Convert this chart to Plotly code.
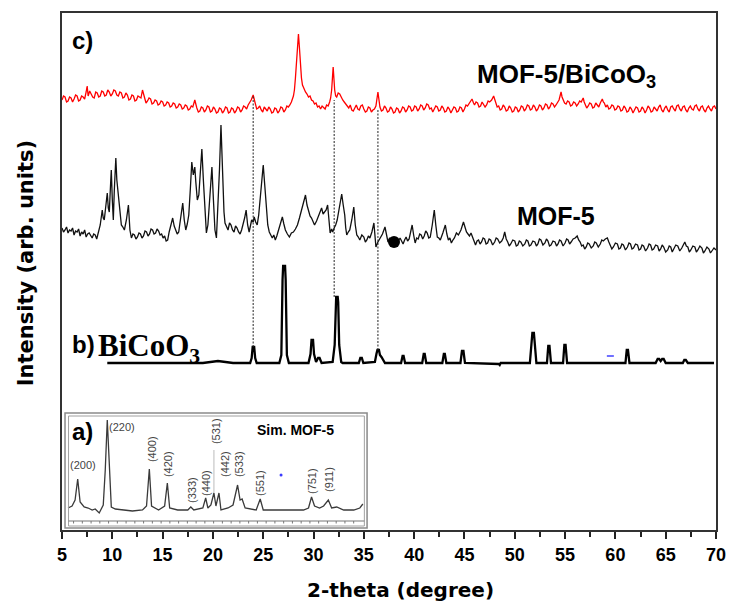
import plotly.graph_objects as go

# ---------------- data (2-theta, intensity in arbitrary offset units) ----------------
red_pts = [
    (5.0,430),(5.15,434),(5.3,433),(5.45,428),(5.6,429),(5.75,433),(5.9,432),(6.05,428),(6.2,431),(6.35,435),
    (6.5,434),(6.65,429),(6.8,430),(6.95,434),(7.1,433),(7.25,431),(7.4,438),(7.5,444),(7.6,434),(7.75,439),
    (7.9,436),(8.05,433),(8.2,432),(8.35,438),(8.5,437),(8.65,433),(8.8,434),(8.95,439),(9.1,438),(9.25,434),
    (9.4,435),(9.55,440),(9.7,438),(9.85,434),(10.0,436),(10.15,440),(10.3,439),(10.45,435),(10.6,434),(10.75,438),
    (10.9,437),(11.05,432),(11.2,433),(11.35,437),(11.5,435),(11.65,430),(11.8,431),(11.95,435),(12.1,434),(12.25,429),
    (12.4,430),(12.55,434),(12.7,433),(12.85,432),(13.0,440),(13.2,431),(13.35,427),(13.5,429),(13.65,432),(13.8,431),
    (13.95,426),(14.1,427),(14.25,430),(14.4,429),(14.55,425),(14.7,426),(14.85,429),(15.0,428),(15.15,424),(15.3,425),
    (15.45,428),(15.6,427),(15.75,423),(15.9,424),(16.05,427),(16.2,426),(16.35,422),(16.5,423),(16.65,426),(16.8,425),
    (16.95,421),(17.1,422),(17.25,425),(17.4,424),(17.55,420),(17.7,421),(17.85,424),(18.0,423),(18.2,430),(18.4,422),
    (18.55,418),(18.7,419),(18.85,423),(19.0,422),(19.15,418),(19.3,420),(19.45,424),(19.6,423),(19.75,418),(19.9,419),
    (20.05,423),(20.2,421),(20.35,417),(20.5,418),(20.65,422),(20.8,421),(20.95,417),(21.1,419),(21.25,423),(21.4,422),
    (21.55,417),(21.7,418),(21.85,422),(22.0,421),(22.15,417),(22.3,419),(22.45,423),(22.6,422),(22.75,418),(22.9,420),
    (23.05,424),(23.2,423),(23.35,421),(23.5,425),(23.65,427),(23.8,430),(24.0,435),(24.2,426),(24.35,421),(24.5,422),
    (24.65,424),(24.8,420),(24.95,418),(25.1,423),(25.25,421),(25.4,419),(25.55,423),(25.7,421),(25.85,417),(26.0,418),
    (26.15,422),(26.3,421),(26.45,417),(26.6,419),(26.75,423),(26.9,422),(27.05,418),(27.2,420),(27.35,424),(27.5,423),
    (27.65,425),(27.8,428),(28.0,434),(28.1,440),(28.2,452),(28.3,470),(28.4,488),(28.5,496),(28.6,482),(28.7,465),
    (28.8,452),(28.9,445),(29.05,441),(29.2,438),(29.35,436),(29.5,433),(29.65,434),(29.8,430),(29.95,429),(30.1,426),
    (30.25,427),(30.4,423),(30.55,424),(30.7,421),(30.85,424),(31.0,422),(31.15,421),(31.3,425),(31.45,424),(31.6,428),
    (31.7,432),(31.8,440),(31.95,463),(32.1,440),(32.2,434),(32.3,433),(32.45,437),(32.6,436),(32.75,432),(32.9,430),
    (33.05,428),(33.2,426),(33.35,424),(33.5,422),(33.65,425),(33.8,420),(33.95,419),(34.1,423),(34.25,425),(34.4,421),
    (34.55,420),(34.7,424),(34.85,425),(35.0,421),(35.15,418),(35.3,419),(35.45,423),(35.6,422),(35.75,418),(35.9,420),
    (36.05,421),(36.2,424),(36.4,438),(36.6,423),(36.75,419),(36.9,420),(37.05,424),(37.2,422),(37.35,418),(37.5,419),
    (37.65,423),(37.8,421),(37.95,417),(38.1,418),(38.25,422),(38.4,421),(38.55,417),(38.7,419),(38.85,423),(39.0,422),
    (39.15,418),(39.3,420),(39.45,424),(39.6,423),(39.75,419),(39.9,420),(40.05,424),(40.2,423),(40.35,419),(40.5,421),
    (40.65,425),(40.8,424),(40.95,420),(41.1,422),(41.25,426),(41.4,425),(41.55,421),(41.7,422),(41.85,418),(42.0,421),
    (42.15,424),(42.3,423),(42.45,419),(42.6,420),(42.75,424),(42.9,422),(43.05,418),(43.2,419),(43.35,423),(43.5,421),
    (43.65,417),(43.8,420),(43.95,423),(44.1,422),(44.25,418),(44.4,419),(44.55,423),(44.7,422),(44.85,418),(45.0,421),
    (45.15,425),(45.3,424),(45.45,426),(45.6,428),(45.75,431),(45.9,427),(46.0,425),(46.15,428),(46.3,427),(46.45,423),
    (46.6,424),(46.75,428),(46.9,426),(47.05,423),(47.2,425),(47.35,429),(47.5,428),(47.7,430),(47.9,434),(48.1,428),
    (48.25,423),(48.4,424),(48.55,420),(48.7,421),(48.85,425),(49.0,423),(49.15,419),(49.3,420),(49.45,424),(49.6,422),
    (49.75,418),(49.9,419),(50.05,423),(50.2,422),(50.35,418),(50.5,420),(50.65,424),(50.8,423),(50.95,419),(51.1,421),
    (51.25,425),(51.4,424),(51.55,420),(51.7,421),(51.85,425),(52.0,423),(52.15,419),(52.3,421),(52.45,425),(52.6,424),
    (52.75,420),(52.9,422),(53.05,426),(53.2,425),(53.35,421),(53.5,423),(53.65,427),(53.8,426),(53.95,423),(54.1,425),
    (54.25,428),(54.4,430),(54.5,434),(54.6,438),(54.7,433),(54.8,430),(54.95,427),(55.1,426),(55.25,429),(55.4,428),
    (55.55,424),(55.7,425),(55.85,428),(56.0,427),(56.15,424),(56.3,426),(56.45,429),(56.6,428),(56.7,430),(56.8,432),
    (56.9,428),(57.0,426),(57.15,422),(57.3,424),(57.45,427),(57.6,426),(57.75,422),(57.9,423),(58.05,427),(58.2,425),
    (58.35,423),(58.5,427),(58.6,429),(58.7,431),(58.8,428),(58.9,427),(59.05,423),(59.2,425),(59.35,421),(59.5,422),
    (59.65,425),(59.8,424),(59.95,420),(60.1,421),(60.25,424),(60.4,423),(60.55,419),(60.7,420),(60.85,424),(61.0,422),
    (61.15,418),(61.3,419),(61.45,423),(61.6,421),(61.75,417),(61.9,420),(62.05,423),(62.2,422),(62.35,418),(62.5,419),
    (62.65,423),(62.8,421),(62.95,417),(63.1,420),(63.25,424),(63.4,422),(63.55,418),(63.7,419),(63.85,423),(64.0,421),
    (64.15,419),(64.3,423),(64.45,425),(64.6,420),(64.75,418),(64.9,422),(65.05,424),(65.2,420),(65.35,418),(65.5,423),
    (65.65,424),(65.8,421),(65.95,419),(66.1,424),(66.25,425),(66.4,421),(66.55,419),(66.7,423),(66.85,424),(67.0,420),
    (67.15,418),(67.3,422),(67.45,424),(67.6,421),(67.75,420),(67.9,424),(68.05,425),(68.2,421),(68.35,419),(68.5,423),
    (68.65,424),(68.8,420),(68.95,418),(69.1,422),(69.25,424),(69.4,421),(69.55,419),(69.7,423),(69.85,424),(70.0,421),
]

mof_pts = [
    (5.0,302),(5.15,298),(5.3,300),(5.45,303),(5.6,297),(5.75,300),(5.9,299),(6.05,302),(6.2,295),(6.35,299),
    (6.5,298),(6.65,301),(6.8,294),(6.95,298),(7.1,296),(7.25,300),(7.4,293),(7.55,296),(7.7,297),(7.85,294),
    (8.0,292),(8.15,296),(8.3,295),(8.45,291),(8.6,298),(8.8,305),(9.0,320),(9.1,312),(9.2,310),(9.35,325),
    (9.5,337),(9.6,322),(9.7,318),(9.8,340),(9.9,360),(10.0,330),(10.1,310),(10.2,340),(10.35,372),(10.45,350),
    (10.6,333),(10.75,318),(10.9,305),(11.05,303),(11.2,300),(11.4,310),(11.6,325),(11.75,300),(11.9,292),(12.05,296),
    (12.2,295),(12.35,291),(12.5,293),(12.65,297),(12.8,296),(12.95,292),(13.1,294),(13.25,299),(13.4,298),(13.55,294),
    (13.7,296),(13.85,301),(14.0,300),(14.15,296),(14.3,297),(14.45,301),(14.6,299),(14.75,295),(14.9,296),(15.05,292),
    (15.2,294),(15.35,289),(15.5,290),(15.65,298),(15.8,305),(16.0,312),(16.15,304),(16.3,300),(16.45,296),(16.6,298),
    (16.8,312),(17.0,327),(17.15,310),(17.3,300),(17.45,306),(17.6,315),(17.75,340),(17.9,368),(18.05,355),(18.2,363),
    (18.3,348),(18.45,330),(18.6,335),(18.75,355),(18.9,381),(19.05,350),(19.2,320),(19.35,297),(19.5,305),(19.6,320),
    (19.75,340),(19.9,363),(20.05,330),(20.2,300),(20.35,292),(20.5,320),(20.65,360),(20.8,405),(20.9,370),(21.0,340),
    (21.1,318),(21.2,307),(21.35,304),(21.5,300),(21.65,307),(21.8,305),(21.95,300),(22.1,298),(22.25,304),(22.4,302),
    (22.55,298),(22.7,296),(22.85,300),(23.0,305),(23.15,312),(23.3,320),(23.45,305),(23.6,298),(23.75,304),(23.85,310),
    (24.0,308),(24.1,313),(24.25,308),(24.4,305),(24.55,315),(24.7,330),(24.85,350),(25.0,365),(25.15,345),(25.3,320),
    (25.45,305),(25.6,298),(25.75,294),(25.9,292),(26.05,295),(26.2,290),(26.35,294),(26.5,300),(26.7,306),(26.9,313),
    (27.05,306),(27.2,300),(27.4,296),(27.6,293),(27.8,297),(28.0,298),(28.2,301),(28.4,305),(28.6,312),(28.8,320),
    (29.0,326),(29.2,335),(29.35,325),(29.5,318),(29.65,314),(29.8,312),(29.95,308),(30.1,305),(30.3,309),(30.5,315),
    (30.65,318),(30.8,322),(30.95,316),(31.1,318),(31.25,320),(31.4,325),(31.5,310),(31.65,297),(31.8,301),(31.9,298),
    (32.05,302),(32.2,305),(32.35,310),(32.5,318),(32.65,328),(32.8,336),(32.95,325),(33.1,315),(33.2,302),(33.3,295),
    (33.45,298),(33.6,300),(33.8,310),(34.0,323),(34.15,305),(34.3,295),(34.45,293),(34.6,290),(34.8,295),(35.0,293),
    (35.15,288),(35.3,290),(35.45,294),(35.6,292),(35.8,298),(36.0,307),(36.1,295),(36.2,283),(36.4,288),(36.6,292),
    (36.85,296),(37.1,303),(37.25,294),(37.4,288),(37.55,292),(37.7,290),(38.0,290),(38.15,292),(38.3,287),(38.45,290),
    (38.6,292),(38.75,289),(38.9,286),(39.05,290),(39.2,293),(39.35,289),(39.5,291),(39.65,298),(39.8,305),(39.95,295),
    (40.1,287),(40.25,292),(40.4,291),(40.55,296),(40.7,295),(40.85,291),(41.0,294),(41.15,299),(41.3,297),(41.45,292),
    (41.6,293),(41.8,305),(42.0,320),(42.15,305),(42.3,293),(42.45,292),(42.6,290),(42.85,297),(43.1,305),(43.25,296),
    (43.4,290),(43.55,292),(43.7,287),(43.85,290),(44.0,292),(44.2,297),(44.4,295),(44.65,300),(44.9,308),(45.05,303),
    (45.2,298),(45.35,296),(45.5,294),(45.65,297),(45.8,292),(45.95,289),(46.1,285),(46.25,289),(46.4,290),(46.55,286),
    (46.7,288),(46.85,292),(47.0,291),(47.15,286),(47.3,287),(47.45,291),(47.6,290),(47.8,285),(48.0,288),(48.15,292),
    (48.3,291),(48.5,287),(48.7,289),(48.85,292),(49.0,298),(49.15,291),(49.3,288),(49.45,284),(49.6,286),(49.8,290),
    (50.0,289),(50.15,284),(50.3,285),(50.45,289),(50.6,288),(50.8,284),(51.0,286),(51.15,290),(51.3,289),(51.45,284),
    (51.6,285),(51.8,289),(52.0,288),(52.15,284),(52.3,286),(52.45,291),(52.6,290),(52.8,285),(53.0,287),(53.15,291),
    (53.3,289),(53.45,284),(53.6,285),(53.8,289),(54.0,288),(54.15,284),(54.3,286),(54.45,290),(54.6,289),(54.8,284),
    (55.0,287),(55.15,291),(55.3,290),(55.45,286),(55.6,288),(55.8,291),(56.0,292),(56.1,293),(56.2,294),(56.35,290),
    (56.5,288),(56.65,284),(56.8,285),(56.95,281),(57.1,283),(57.25,287),(57.4,286),(57.6,282),(57.8,284),(57.95,288),
    (58.1,287),(58.3,283),(58.5,286),(58.65,290),(58.8,289),(59.0,291),(59.2,292),(59.35,288),(59.5,285),(59.65,281),
    (59.8,283),(60.0,287),(60.2,286),(60.35,281),(60.5,282),(60.65,286),(60.8,285),(61.0,280),(61.2,283),(61.35,287),
    (61.5,286),(61.65,281),(61.8,282),(62.0,286),(62.2,285),(62.35,280),(62.5,281),(62.65,285),(62.8,284),(63.0,279),
    (63.2,282),(63.35,286),(63.5,285),(63.65,280),(63.8,281),(64.0,285),(64.2,284),(64.35,279),(64.5,281),(64.65,285),
    (64.8,283),(65.0,278),(65.2,280),(65.35,284),(65.5,283),(65.65,278),(65.8,281),(66.0,285),(66.2,284),(66.4,279),
    (66.6,282),(66.75,286),(66.9,288),(67.05,284),(67.2,283),(67.35,278),(67.5,280),(67.7,284),(67.9,283),(68.05,278),
    (68.2,280),(68.4,284),(68.6,282),(68.75,277),(68.9,279),(69.1,283),(69.3,281),(69.45,277),(69.6,279),(69.8,282),
    (70.0,280),
]

bico_pts = [
    (9.5,167),(19.0,167),(20.5,169),(22.0,167),(23.7,167),(23.85,172),(23.95,183),(24.1,183),(24.2,172),(24.35,167),
    (26.6,167),(26.8,175),(26.92,250),(26.98,264),(27.17,264),(27.23,250),(27.35,175),(27.55,167),
    (29.5,167),(29.7,176),(29.8,190),(29.95,190),(30.05,176),(30.25,168),(30.45,172),(30.6,172),(30.8,167),
    (31.9,168),(32.1,185),(32.2,228),(32.25,233),(32.4,233),(32.45,228),(32.55,185),(32.75,168),(32.9,167),
    (34.5,167),(34.65,172),(34.8,172),(34.95,167),
    (36.1,168),(36.25,176),(36.35,180),(36.5,180),(36.6,175),(36.75,173),(36.9,170),(37.1,167),
    (38.7,167),(38.85,174),(38.95,174),(39.1,167),
    (40.8,167),(40.95,176),(41.05,176),(41.2,167),
    (42.8,167),(42.95,176),(43.05,176),(43.2,167),
    (44.6,167),(44.75,179),(44.9,179),(45.05,167),
    (48.4,166),(48.5,165),(48.6,167),
    (51.5,167),(51.65,185),(51.75,197),(51.9,197),(52.0,185),(52.15,167),
    (53.2,167),(53.33,184),(53.45,184),(53.6,167),
    (54.8,167),(54.93,185),(55.05,185),(55.2,167),
    (61.0,167),(61.13,180),(61.25,180),(61.4,167),
    (64.0,167),(64.2,171),(64.35,171),(64.5,169),(64.65,171),(64.8,171),(65.0,167),
    (66.7,167),(66.85,170),(67.0,170),(67.2,167),(69.8,167),
]

sim_pts = [
    (5.6,22),(6.0,24),(6.3,30),(6.56,51),(6.8,28),(7.2,23),(7.6,22),(8.0,20),(8.3,21),(8.7,17),
    (9.1,25),(9.3,60),(9.5,110),(9.7,60),(9.9,23),(10.3,21),(11.0,20),(12.0,19),(13.0,20),(13.4,24),
    (13.68,61),(13.9,24),(14.6,20),(15.2,24),(15.47,47),(15.7,22),(16.5,20),(17.5,20),(17.8,23),(18.1,20),
    (19.0,22),(19.28,32),(19.5,22),(19.8,25),(20.1,37),(20.3,24),(20.6,37),(20.8,20),(21.5,22),(22.0,25),
    (22.45,45),(22.7,30),(22.9,31),(23.2,22),(24.3,20),(24.7,31),(25.0,20),(26.0,20),(27.0,20),(28.0,20),
    (29.0,20),(29.5,22),(29.8,33),(30.1,24),(30.6,22),(31.0,24),(31.47,30),(31.8,22),(32.3,23),(33.0,20),
    (34.0,20),(34.6,22),(34.9,26),
]

# dotted guide lines linking composite peaks with BiCoO3 reflections
guide_2theta = [24.0, 32.05, 36.4]
guide_top = [435, 430, 420]
guide_bottom = [183, 233, 180]

# hkl labels of simulated MOF-5 (inset)
hkl_labels = ["(400)", "(420)", "(333)", "(440)", "(531)", "(442)", "(533)", "(551)", "(751)", "(911)"]
hkl_2theta = [13.95, 15.54, 17.92, 19.31, 20.31, 21.2, 22.6, 24.68, 29.85, 31.54]
hkl_y = [81, 66, 40, 47, 99, 66, 66, 47, 49, 50]

x_ticks = [5, 10, 15, 20, 25, 30, 35, 40, 45, 50, 55, 60, 65, 70]

dot_2theta, dot_y = [38.0], [288]


def unzip(pts):
    return [p[0] for p in pts], [p[1] for p in pts]


fig = go.Figure()

# ---------------- inset frame (decoration) ----------------
IX0, IX1, IY0, IY1 = 5.3, 35.32, 2, 117
JX0, JX1, JY0, JY1 = 5.65, 35.05, 4, 114
shapes = [
    dict(type="rect", xref="x", yref="y", x0=IX0, x1=IX1, y0=IY0, y1=IY1,
         line=dict(color="#8a8a8a", width=1.5), fillcolor="white", layer="below"),
    dict(type="rect", xref="x", yref="y", x0=JX0, x1=JX1, y0=JY0, y1=JY1,
         line=dict(color="#a0a0a0", width=1)),
    dict(type="line", xref="x", yref="y", x0=JX0, x1=JX1, y0=9, y1=9,
         line=dict(color="#777", width=1)),
]
tx, ty = [], []
t = JX0 + 0.5
while t < JX1 - 0.2:
    tx += [t, t, None]
    ty += [9, 6.5, None]
    t += 0.87
fig.add_trace(go.Scatter(x=tx, y=ty, mode="lines", line=dict(color="#777", width=1),
                         hoverinfo="skip", showlegend=False))

sx, sy = unzip(sim_pts)
fig.add_trace(go.Scatter(x=sx, y=sy, mode="lines", line=dict(color="#3a3a3a", width=1.3),
                         showlegend=False))
fig.add_trace(go.Scatter(x=[20.1, 20.1], y=[37, 80], mode="lines",
                         line=dict(color="#aaaaaa", width=0.8), showlegend=False))
fig.add_trace(go.Scatter(x=[26.77], y=[55], mode="markers",
                         marker=dict(color="#3b3bff", size=3), showlegend=False))

bx, by = unzip(bico_pts)
fig.add_trace(go.Scatter(x=bx, y=by, mode="lines", line=dict(color="#000", width=2.3),
                         showlegend=False))
fig.add_trace(go.Scatter(x=[59.5], y=[174], mode="markers",
                         marker=dict(color="#4040ff", size=5, symbol="line-ew",
                                     line=dict(color="#4040ff", width=1.5)), showlegend=False))

mx, my = unzip(mof_pts)
fig.add_trace(go.Scatter(x=mx, y=my, mode="lines", line=dict(color="#111", width=1.3),
                         showlegend=False))
fig.add_trace(go.Scatter(x=dot_2theta, y=dot_y, mode="markers",
                         marker=dict(color="#000", size=12), showlegend=False))

rx, ry = unzip(red_pts)
fig.add_trace(go.Scatter(x=rx, y=ry, mode="lines", line=dict(color="#ff0000", width=1.3),
                         showlegend=False))

for gx, gt, gb in zip(guide_2theta, guide_top, guide_bottom):
    fig.add_trace(go.Scatter(x=[gx, gx], y=[gb, gt], mode="lines",
                             line=dict(color="#222", width=1, dash="2px,1.5px"), showlegend=False))

# ---------------- annotations ----------------
bold_sans = dict(family="Liberation Sans, Arial", color="black", weight="bold")
ann = []
ann.append(dict(x=5.8, y=490, xref="x", yref="y", text="c)", showarrow=False, xanchor="left",
                yanchor="middle", font=dict(size=24, **bold_sans)))
ann.append(dict(x=46.0, y=455, xref="x", yref="y", text="MOF-5/BiCoO<sub>3</sub>", showarrow=False,
                xanchor="left", yanchor="middle", font=dict(size=26, **bold_sans)))
ann.append(dict(x=50.0, y=314, xref="x", yref="y", text="MOF-5", showarrow=False,
                xanchor="left", yanchor="middle", font=dict(size=25, **bold_sans)))
ann.append(dict(x=5.75, y=186, xref="x", yref="y", text="b)", showarrow=False,
                xanchor="left", yanchor="middle", font=dict(size=24, **bold_sans)))
ann.append(dict(x=8.4, y=182, xref="x", yref="y", text="BiCoO<sub>3</sub>", showarrow=False,
                xanchor="left", yanchor="middle",
                font=dict(size=31, family="Liberation Serif, Times New Roman", color="black",
                          weight="bold")))
ann.append(dict(x=5.8, y=99, xref="x", yref="y", text="a)", showarrow=False,
                xanchor="left", yanchor="middle", font=dict(size=24, **bold_sans)))
ann.append(dict(x=24.2, y=100, xref="x", yref="y", text="Sim. MOF-5", showarrow=False,
                xanchor="left", yanchor="middle", font=dict(size=14, **bold_sans)))
ann.append(dict(x=7.09, y=65, xref="x", yref="y", text="(200)", showarrow=False,
                font=dict(size=11, family="Liberation Sans, Arial", color="#444")))
ann.append(dict(x=10.96, y=103, xref="x", yref="y", text="(220)", showarrow=False,
                font=dict(size=11, family="Liberation Sans, Arial", color="#444")))
for lab, hx, hy in zip(hkl_labels, hkl_2theta, hkl_y):
    ann.append(dict(x=hx, y=hy, xref="x", yref="y", text=lab, showarrow=False, textangle=-90,
                    font=dict(size=11, family="Liberation Sans, Arial", color="#444")))
ann.append(dict(x=0.517, y=-0.116, xref="paper", yref="paper", text="2-theta (degree)",
                showarrow=False, xanchor="center", yanchor="middle",
                font=dict(size=20, family="DejaVu Sans", color="black", weight="bold")))
ann.append(dict(x=-0.055, y=0.516, xref="paper", yref="paper", text="Intensity (arb. units)",
                showarrow=False, xanchor="center", yanchor="middle", textangle=-90,
                font=dict(size=21, family="DejaVu Sans", color="black", weight="bold")))

fig.update_layout(
    width=729, height=603, autosize=False,
    margin=dict(l=62, r=13, t=13, b=73, autoexpand=False),
    paper_bgcolor="white", plot_bgcolor="white",
    shapes=shapes, annotations=ann, showlegend=False,
    xaxis=dict(range=[5, 70], tickvals=x_ticks, ticktext=[str(v) for v in x_ticks],
               automargin=False,
               ticks="outside", ticklen=7, tickwidth=2, tickcolor="#222",
               minor=dict(dtick=2.5, tick0=5, ticks="outside", ticklen=5, tickwidth=1.5, tickcolor="#222"),
               showline=True, linecolor="#333", linewidth=2, mirror=True,
               showgrid=False, zeroline=False,
               tickfont=dict(size=18, family="Liberation Sans, Arial", color="black", weight="bold")),
    yaxis=dict(range=[0, 517], showticklabels=False, ticks="", showline=True, linecolor="#333",
               automargin=False,
               linewidth=2, mirror=True, showgrid=False, zeroline=False),
)

fig.write_html("out.html",
               config={"displayModeBar": False, "responsive": False},
               post_script="document.body.style.margin='0';document.body.style.overflow='hidden';")
